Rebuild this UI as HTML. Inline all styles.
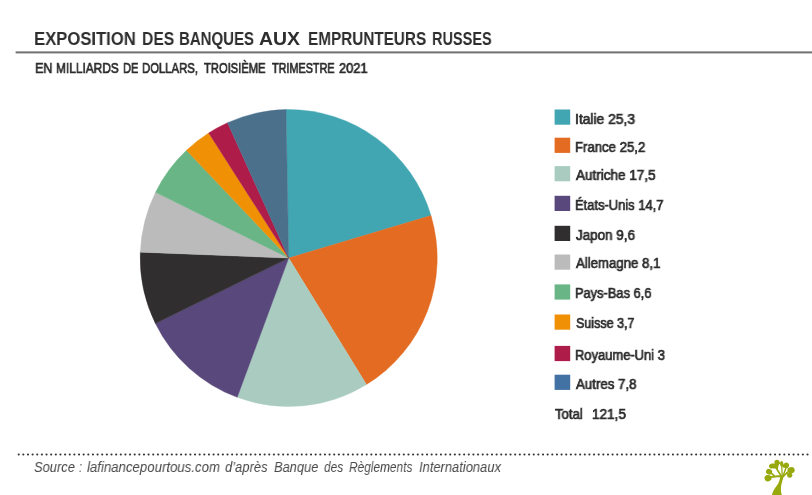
<!DOCTYPE html>
<html><head><meta charset="utf-8"><title>Exposition des banques aux emprunteurs russes</title>
<style>
html,body{margin:0;padding:0;background:#fff;}
body{width:812px;height:495px;position:relative;overflow:hidden;font-family:"Liberation Sans",sans-serif;}
.t{position:absolute;white-space:nowrap;line-height:1;transform-origin:0 0;will-change:transform;}
svg{display:block}
</style></head><body>
<svg style="position:absolute;left:0;top:0" width="812" height="495" viewBox="0 0 812 495">
<path d="M288.7,258.05L285.98,109.57A148.5,148.5 0 0 1 430.98,215.53Z" fill="#41a6b2" stroke="#41a6b2" stroke-width="0.4"/>
<path d="M288.7,258.05L430.98,215.53A148.5,148.5 0 0 1 366.45,384.57Z" fill="#e36b22" stroke="#e36b22" stroke-width="0.4"/>
<path d="M288.7,258.05L366.45,384.57A148.5,148.5 0 0 1 237.23,397.34Z" fill="#aaccc0" stroke="#aaccc0" stroke-width="0.4"/>
<path d="M288.7,258.05L237.23,397.34A148.5,148.5 0 0 1 155.41,323.53Z" fill="#58487c" stroke="#58487c" stroke-width="0.4"/>
<path d="M288.7,258.05L155.41,323.53A148.5,148.5 0 0 1 140.32,252.14Z" fill="#302e2f" stroke="#302e2f" stroke-width="0.4"/>
<path d="M288.7,258.05L140.32,252.14A148.5,148.5 0 0 1 155.55,192.30Z" fill="#bbbbbb" stroke="#bbbbbb" stroke-width="0.4"/>
<path d="M288.7,258.05L155.55,192.30A148.5,148.5 0 0 1 186.45,150.36Z" fill="#69b585" stroke="#69b585" stroke-width="0.4"/>
<path d="M288.7,258.05L186.45,150.36A148.5,148.5 0 0 1 208.69,132.95Z" fill="#f09005" stroke="#f09005" stroke-width="0.4"/>
<path d="M288.7,258.05L208.69,132.95A148.5,148.5 0 0 1 227.56,122.72Z" fill="#ae1c4a" stroke="#ae1c4a" stroke-width="0.4"/>
<path d="M288.7,258.05L227.56,122.72A148.5,148.5 0 0 1 285.98,109.57Z" fill="#4a708b" stroke="#4a708b" stroke-width="0.4"/>
<rect x="554.6" y="109.50" width="15.6" height="15.2" fill="#41a6b2"/><rect x="554.6" y="137.70" width="15.6" height="15.2" fill="#e36b22"/><rect x="554.6" y="166.10" width="15.6" height="15.2" fill="#aaccc0"/><rect x="554.6" y="195.80" width="15.6" height="15.2" fill="#58487c"/><rect x="554.6" y="225.80" width="15.6" height="15.2" fill="#302e2f"/><rect x="554.6" y="254.50" width="15.6" height="15.2" fill="#bbbbbb"/><rect x="554.6" y="284.40" width="15.6" height="15.2" fill="#69b585"/><rect x="554.6" y="314.50" width="15.6" height="15.2" fill="#f09005"/><rect x="554.6" y="345.90" width="15.6" height="15.2" fill="#ae1c4a"/><rect x="554.6" y="374.70" width="15.6" height="15.2" fill="#4272a4"/>
<rect x="15.6" y="51.4" width="800" height="2.0" fill="#707070"/>
<line x1="18.7" y1="454.5" x2="808.5" y2="454.5" stroke="#333" stroke-width="2.15" stroke-linecap="round" stroke-dasharray="0 4.640"/>
</svg>
<div class="t" style="left:34.40px;top:30.46px;font:700 18.6px 'Liberation Sans',sans-serif;line-height:1;color:#2e2e2e;transform:scaleX(0.8955);">EXPOSITION</div><div class="t" style="left:142.06px;top:30.46px;font:700 18.6px 'Liberation Sans',sans-serif;line-height:1;color:#2e2e2e;transform:scaleX(0.8444);">DES</div><div class="t" style="left:179.09px;top:30.46px;font:700 18.6px 'Liberation Sans',sans-serif;line-height:1;color:#2e2e2e;transform:scaleX(0.8070);">BANQUES</div><div class="t" style="left:259.20px;top:30.46px;font:700 18.6px 'Liberation Sans',sans-serif;line-height:1;color:#2e2e2e;transform:scaleX(1.0438);">AUX</div><div class="t" style="left:307.68px;top:30.46px;font:700 18.6px 'Liberation Sans',sans-serif;line-height:1;color:#2e2e2e;transform:scaleX(0.8228);">EMPRUNTEURS</div><div class="t" style="left:432.42px;top:30.46px;font:700 18.6px 'Liberation Sans',sans-serif;line-height:1;color:#2e2e2e;transform:scaleX(0.7807);">RUSSES</div><div class="t" style="left:35.02px;top:61.01px;font:400 14.4px 'Liberation Sans',sans-serif;line-height:1;color:#2b2b2b;transform:scaleX(0.8764);-webkit-text-stroke:0.7px #2b2b2b;">EN</div><div class="t" style="left:56.37px;top:61.01px;font:400 14.4px 'Liberation Sans',sans-serif;line-height:1;color:#2b2b2b;transform:scaleX(0.8269);-webkit-text-stroke:0.7px #2b2b2b;">MILLIARDS</div><div class="t" style="left:123.23px;top:61.01px;font:400 14.4px 'Liberation Sans',sans-serif;line-height:1;color:#2b2b2b;transform:scaleX(0.7721);-webkit-text-stroke:0.7px #2b2b2b;">DE</div><div class="t" style="left:142.41px;top:61.01px;font:400 14.4px 'Liberation Sans',sans-serif;line-height:1;color:#2b2b2b;transform:scaleX(0.7863);-webkit-text-stroke:0.7px #2b2b2b;">DOLLARS,</div><div class="t" style="left:204.40px;top:61.01px;font:400 14.4px 'Liberation Sans',sans-serif;line-height:1;color:#2b2b2b;transform:scaleX(0.7778);-webkit-text-stroke:0.7px #2b2b2b;">TROISIÈME</div><div class="t" style="left:271.60px;top:61.01px;font:400 14.4px 'Liberation Sans',sans-serif;line-height:1;color:#2b2b2b;transform:scaleX(0.7523);-webkit-text-stroke:0.7px #2b2b2b;">TRIMESTRE</div><div class="t" style="left:339.30px;top:61.01px;font:400 14.4px 'Liberation Sans',sans-serif;line-height:1;color:#2b2b2b;transform:scaleX(0.8935);-webkit-text-stroke:0.7px #2b2b2b;">2021</div><div class="t" style="left:575.41px;top:112.05px;font:400 14px 'Liberation Sans',sans-serif;line-height:1;color:#2b2b2b;transform:scaleX(0.9879);-webkit-text-stroke:0.7px #2b2b2b;">Italie 25,3</div><div class="t" style="left:575.46px;top:139.65px;font:400 14px 'Liberation Sans',sans-serif;line-height:1;color:#2b2b2b;transform:scaleX(0.9402);-webkit-text-stroke:0.7px #2b2b2b;">France 25,2</div><div class="t" style="left:576.40px;top:167.85px;font:400 14px 'Liberation Sans',sans-serif;line-height:1;color:#2b2b2b;transform:scaleX(0.9648);-webkit-text-stroke:0.7px #2b2b2b;">Autriche 17,5</div><div class="t" style="left:575.48px;top:197.75px;font:400 14px 'Liberation Sans',sans-serif;line-height:1;color:#2b2b2b;transform:scaleX(0.9239);-webkit-text-stroke:0.7px #2b2b2b;">États-Unis 14,7</div><div class="t" style="left:576.40px;top:228.15px;font:400 14px 'Liberation Sans',sans-serif;line-height:1;color:#2b2b2b;transform:scaleX(0.9593);-webkit-text-stroke:0.7px #2b2b2b;">Japon 9,6</div><div class="t" style="left:576.40px;top:256.45px;font:400 14px 'Liberation Sans',sans-serif;line-height:1;color:#2b2b2b;transform:scaleX(0.9430);-webkit-text-stroke:0.7px #2b2b2b;">Allemagne 8,1</div><div class="t" style="left:575.48px;top:286.15px;font:400 14px 'Liberation Sans',sans-serif;line-height:1;color:#2b2b2b;transform:scaleX(0.9178);-webkit-text-stroke:0.7px #2b2b2b;">Pays-Bas 6,6</div><div class="t" style="left:576.40px;top:316.25px;font:400 14px 'Liberation Sans',sans-serif;line-height:1;color:#2b2b2b;transform:scaleX(0.8935);-webkit-text-stroke:0.7px #2b2b2b;">Suisse 3,7</div><div class="t" style="left:575.48px;top:348.25px;font:400 14px 'Liberation Sans',sans-serif;line-height:1;color:#2b2b2b;transform:scaleX(0.9235);-webkit-text-stroke:0.7px #2b2b2b;">Royaume-Uni 3</div><div class="t" style="left:576.40px;top:377.35px;font:400 14px 'Liberation Sans',sans-serif;line-height:1;color:#2b2b2b;transform:scaleX(0.9480);-webkit-text-stroke:0.7px #2b2b2b;">Autres 7,8</div><div class="t" style="left:555.40px;top:407.15px;font:400 14px 'Liberation Sans',sans-serif;line-height:1;color:#2b2b2b;transform:scaleX(0.9368);-webkit-text-stroke:0.7px #2b2b2b;">Total</div><div class="t" style="left:592.03px;top:407.15px;font:400 14px 'Liberation Sans',sans-serif;line-height:1;color:#2b2b2b;transform:scaleX(0.9694);-webkit-text-stroke:0.7px #2b2b2b;">121,5</div><div class="t" style="left:33.80px;top:458.73px;font:italic 400 15.2px 'Liberation Sans',sans-serif;line-height:1;color:#4a4a4a;transform:scaleX(0.8495);">Source</div><div class="t" style="left:79.40px;top:458.73px;font:italic 400 15.2px 'Liberation Sans',sans-serif;line-height:1;color:#4a4a4a;transform:scaleX(0.7250);">:</div><div class="t" style="left:86.80px;top:458.73px;font:italic 400 15.2px 'Liberation Sans',sans-serif;line-height:1;color:#4a4a4a;transform:scaleX(0.8701);">lafinancepourtous.com</div><div class="t" style="left:225.10px;top:458.73px;font:italic 400 15.2px 'Liberation Sans',sans-serif;line-height:1;color:#4a4a4a;transform:scaleX(0.8543);">d’après</div><div class="t" style="left:273.90px;top:458.73px;font:italic 400 15.2px 'Liberation Sans',sans-serif;line-height:1;color:#4a4a4a;transform:scaleX(0.8475);">Banque</div><div class="t" style="left:323.70px;top:458.73px;font:italic 400 15.2px 'Liberation Sans',sans-serif;line-height:1;color:#4a4a4a;transform:scaleX(0.7793);">des</div><div class="t" style="left:348.70px;top:458.73px;font:italic 400 15.2px 'Liberation Sans',sans-serif;line-height:1;color:#4a4a4a;transform:scaleX(0.7821);">Règlements</div><div class="t" style="left:418.60px;top:458.73px;font:italic 400 15.2px 'Liberation Sans',sans-serif;line-height:1;color:#4a4a4a;transform:scaleX(0.8509);">Internationaux</div>
<svg style="position:absolute;left:760px;top:456px" width="40" height="39" viewBox="0 0 508 495">
<g fill="#97a90c" stroke="none">
<path d="M152,495 C160,450 185,415 215,375 C245,335 252,295 258,250 L302,250 C292,300 270,345 266,400 C264,440 268,470 278,495 Z"/>
<ellipse cx="215" cy="86" rx="33" ry="37"/>
<ellipse cx="157" cy="126" rx="43" ry="31" transform="rotate(-12 157 126)"/>
<path d="M130,150 L225,165 L240,95 Z"/>
<ellipse cx="276" cy="100" rx="21" ry="37"/>
<circle cx="246" cy="90" r="13"/>
<ellipse cx="303" cy="128" rx="18" ry="22"/>
<ellipse cx="334" cy="120" rx="34" ry="37" transform="rotate(15 334 120)"/>
<ellipse cx="395" cy="180" rx="46" ry="40" transform="rotate(-15 395 180)"/>
<ellipse cx="378" cy="245" rx="33" ry="31"/>
<ellipse cx="115" cy="200" rx="40" ry="35" transform="rotate(25 115 200)"/>
<ellipse cx="102" cy="281" rx="45" ry="40" transform="rotate(-15 102 281)"/>
</g>
<g fill="none" stroke="#97a90c" stroke-linecap="round" stroke-linejoin="round">
<path d="M278,257 L225,257 L140,268" stroke-width="25"/>
<path d="M150,225 L178,250" stroke-width="22"/>
<path d="M262,242 L210,158" stroke-width="21"/>
<path d="M281,250 L277,130" stroke-width="16"/>
<path d="M294,250 L327,160" stroke-width="19"/>
<path d="M296,258 L360,197" stroke-width="21"/>
<path d="M338,215 L365,235" stroke-width="18"/>
</g>
</svg>
</body></html>
